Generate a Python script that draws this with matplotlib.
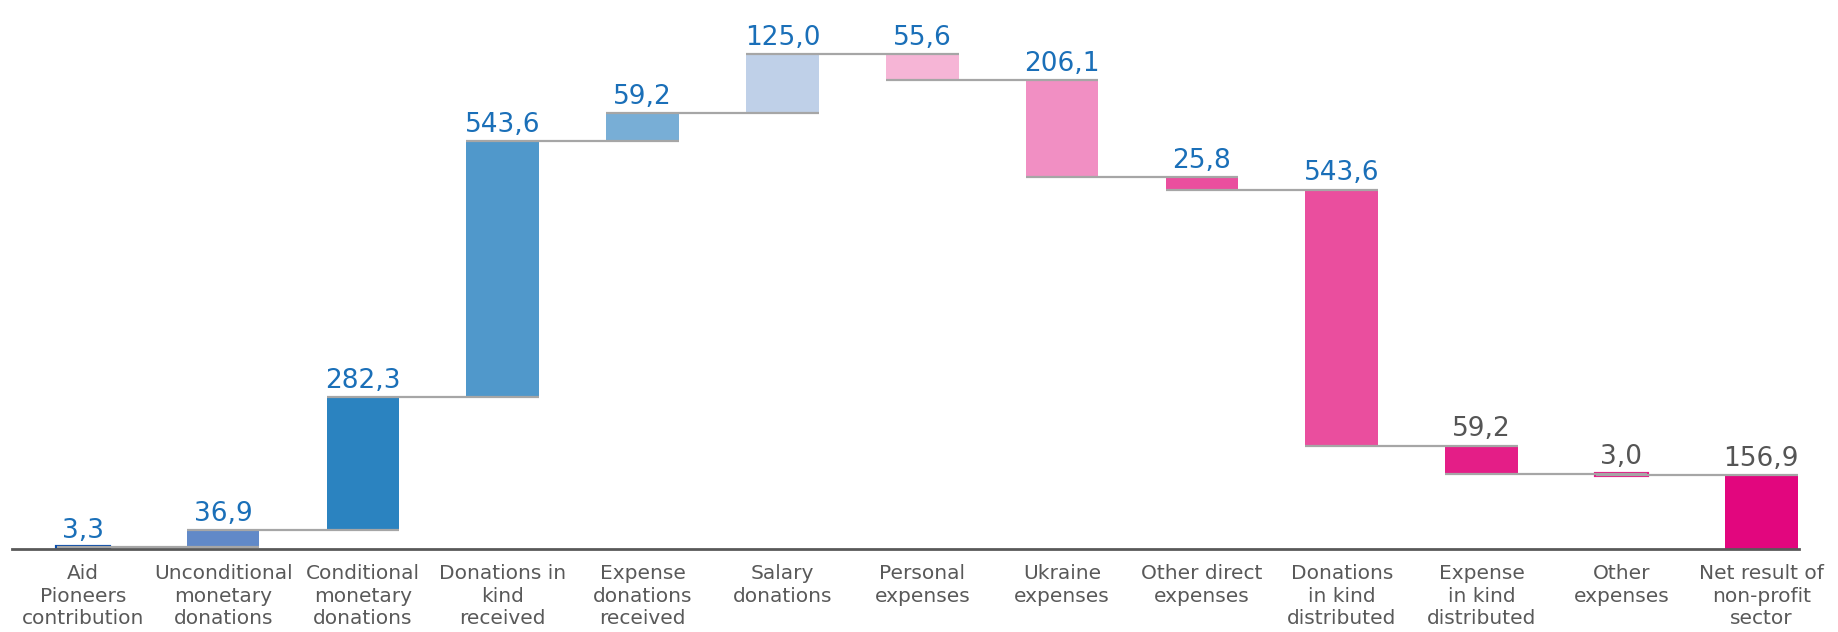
import numpy as np
import matplotlib
matplotlib.use("Agg")
import matplotlib.pyplot as plt

categories = ["Aid\nPioneers\ncontribution", "Unconditional\nmonetary\ndonations",
              "Conditional\nmonetary\ndonations", "Donations in\nkind\nreceived",
              "Expense\ndonations\nreceived", "Salary\ndonations", "Personal\nexpenses",
              "Ukraine\nexpenses", "Other direct\nexpenses", "Donations\nin kind\ndistributed",
              "Expense\nin kind\ndistributed", "Other\nexpenses", "Net result of\nnon-profit\nsector"]
# signed changes; last entry is the total
changes = [3.3, 36.9, 282.3, 543.6, 59.2, 125.0, -55.6, -206.1, -25.8, -543.6, -59.2, -3.0]
net_result = 156.9
colors = ["#0A4DAA", "#6189C8", "#2B83C0", "#5098CB", "#78AED6", "#BFD0E8",
          "#F6B5D6", "#F18FC3", "#EA4E9E", "#EA4E9E", "#E41E87", "#E41E87", "#E2067E"]
label_colors = ["#1A6FB8"] * 10 + ["#555555"] * 3

cum = np.concatenate([[0], np.cumsum(changes)])
bottoms = list(np.minimum(cum[:-1], cum[1:])) + [0]
heights = list(np.abs(changes)) + [net_result]
values = [abs(c) for c in changes] + [net_result]
tops = [b + h for b, h in zip(bottoms, heights)]

fig = plt.figure(figsize=(18.38, 6.32), dpi=100)
ax = fig.add_axes([12 / 1838, 83 / 632, 1787 / 1838, 549 / 632])

x = np.arange(len(categories))
w = 0.52
# the tiny bars are drawn narrower in the original
widths = [0.37 if v < 10 else w for v in values]
ax.bar(x, heights, bottom=bottoms, width=widths, color=colors, zorder=2,
       edgecolor=colors, linewidth=[3 if v < 10 else 0 for v in values])

# connectors at each running level
levels = list(cum[1:])
for i in range(len(x) - 1):
    ax.plot([x[i] - widths[i] / 2, x[i + 1] + widths[i + 1] / 2], [levels[i], levels[i]],
            color="#A6A6A6", lw=1.6, zorder=3, solid_capstyle="butt")

for i in range(len(x)):
    ax.text(x[i], tops[i] + 7, f"{values[i]:.1f}".replace(".", ","),
            ha="center", va="bottom", fontsize=19, color=label_colors[i], zorder=4)

ax.set_xlim(-0.51, 12.27)
ax.set_ylim(0, 1165)
ax.set_xticks(x)
ax.set_xticklabels(categories, fontsize=14.5, color="#595959", linespacing=1.22)
ax.tick_params(axis="x", length=0, pad=11)
ax.set_yticks([])
for s in ["top", "right", "left"]:
    ax.spines[s].set_visible(False)
ax.spines["bottom"].set_color("#595959")
ax.spines["bottom"].set_linewidth(2)
ax.spines["bottom"].set_zorder(5)

plt.savefig("out.png", dpi=100)
